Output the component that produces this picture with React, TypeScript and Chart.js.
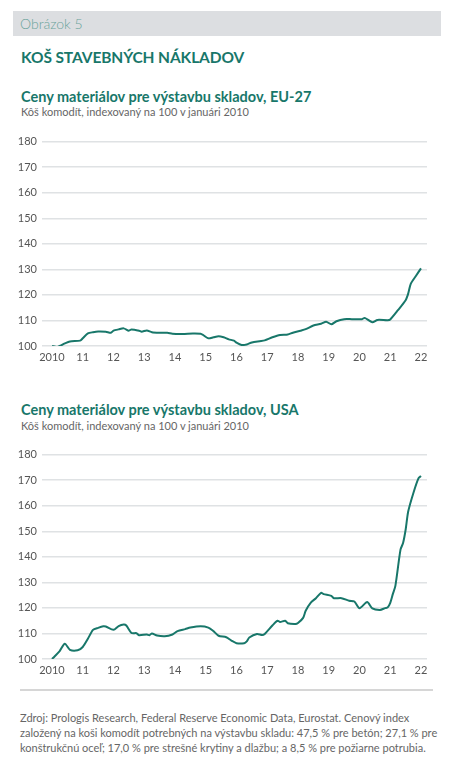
import React, { useEffect, useRef } from "react";
import { Chart, registerables } from "chart.js";

Chart.register(...registerables);

// Month index counted from January 2010 (0 = Jan 2010, 144 = Jan 2022)
const yearTickMonths = [0, 12, 24, 36, 48, 60, 72, 84, 96, 108, 120, 132, 144];
const yearTickLabels = ["2010", "11", "12", "13", "14", "15", "16", "17", "18", "19", "20", "21", "22"];
const yTicks = [100, 110, 120, 130, 140, 150, 160, 170, 180];

const euMonths = [0, 2, 3, 5, 7, 11, 12, 14, 16, 18, 21, 23, 24, 26, 28, 30, 31, 34, 35, 37, 39, 42, 45, 47, 51, 55, 58, 59, 61, 63, 65, 67, 69, 71, 72, 74, 76, 78, 81, 83, 86, 89, 92, 94, 97, 99, 102, 105, 107, 109, 111, 114, 117, 121, 122, 125, 127, 131, 132, 135, 138, 139, 140, 142, 144];
const euValues = [100, 99.6, 100, 101, 101.8, 102.1, 103, 104.9, 105.4, 105.7, 105.6, 105.2, 106, 106.5, 106.9, 106, 106.5, 106, 105.6, 106.1, 105.4, 105.2, 105.2, 104.8, 104.7, 104.9, 104.8, 104.3, 103, 103.4, 103.8, 103.4, 102.6, 102.1, 101.3, 100.4, 100.6, 101.4, 101.9, 102.2, 103.4, 104.3, 104.5, 105.2, 106, 106.6, 108, 108.7, 109.5, 108.5, 109.7, 110.5, 110.5, 110.5, 111, 109.3, 110.2, 110.1, 110.4, 114, 117.9, 120.5, 124.3, 127.4, 130.4];

const usMonths = [0, 1, 3, 5, 7, 10, 12, 14, 16, 18, 20, 21, 24, 26, 28, 29, 31, 33, 34, 37, 38, 39, 41, 44, 47, 49, 52, 54, 58, 61, 63, 65, 68, 70, 72, 75, 76, 77, 80, 82, 83, 86, 88, 89, 91, 92, 95, 96, 98, 99, 101, 103, 105, 106, 109, 110, 113, 116, 118, 120, 123, 125, 128, 130, 131, 132, 133, 134, 136, 137, 138, 139, 141, 143, 144];
const usValues = [100, 101, 103.1, 106, 103.6, 103.4, 104.7, 107.9, 111.4, 112.2, 112.8, 112.7, 111.4, 112.9, 113.5, 113.1, 110.2, 110.1, 109.3, 109.6, 109.3, 110, 109.2, 108.9, 109.6, 110.9, 111.7, 112.3, 112.8, 112.3, 110.9, 109.1, 108.5, 107.2, 106.2, 106.2, 106.9, 108.4, 109.8, 109.4, 109.8, 113.1, 115, 114.5, 115, 114, 113.7, 114.1, 116.1, 118.9, 122.1, 123.8, 125.9, 125.4, 124.7, 123.8, 123.8, 122.8, 122.5, 119.9, 122.3, 119.8, 119.2, 119.9, 120.2, 122, 125.4, 128.6, 142.8, 145.4, 150.6, 157.7, 164.9, 170.7, 171.6];

const TEAL = "#18776a";
const FONT = "Lato, 'Noto Sans', sans-serif";

function LineChart({ months, values, top }: { months: number[]; values: number[]; top: number }) {
  const ref = useRef<HTMLCanvasElement>(null);
  useEffect(() => {
    if (!ref.current) return;
    const chart = new Chart(ref.current, {
      type: "line",
      data: {
        datasets: [
          {
            data: months.map((m, i) => ({ x: m, y: values[i] })),
            borderColor: TEAL,
            borderWidth: 2,
            pointRadius: 0,
            tension: 0.25,
            fill: false,
          },
        ],
      },
      options: {
        animation: false,
        responsive: false,
        maintainAspectRatio: false,
        layout: { padding: { top: 10, right: 29, bottom: 0, left: 0 } },
        plugins: { legend: { display: false }, tooltip: { enabled: false } },
        scales: {
          x: {
            type: "linear",
            min: -3.9,
            max: 146.34,
            border: { display: false },
            grid: { display: false, drawTicks: false },
            afterBuildTicks: (axis: any) => {
              axis.ticks = yearTickMonths.map((v) => ({ value: v }));
            },
            afterFit: (scale: any) => {
              scale.height = 24;
            },
            ticks: {
              autoSkip: false,
              maxRotation: 0,
              padding: 5,
              color: "#555",
              font: { family: FONT, size: 11 },
              callback: (v: any) => {
                const idx = yearTickMonths.indexOf(Number(v));
                return idx >= 0 ? yearTickLabels[idx] : "";
              },
            },
          },
          y: {
            min: 100,
            max: 180,
            border: { display: false },
            grid: { color: "#dfe2e4", lineWidth: 1.5, drawTicks: false },
            afterBuildTicks: (axis: any) => {
              axis.ticks = yTicks.map((v) => ({ value: v }));
            },
            afterFit: (scale: any) => {
              scale.width = 42;
            },
            ticks: {
              padding: 5,
              color: "#555",
              font: { family: FONT, size: 11 },
            },
          },
        },
      },
    } as any);
    return () => chart.destroy();
  }, [months, values]);
  return (
    <canvas
      ref={ref}
      width={456}
      height={240}
      style={{ position: "absolute", left: 0, top, width: 456, height: 240 }}
    />
  );
}

function Text({ top, h, size, color, weight, children, left = 21, ls = 0 }: any) {
  return (
    <div
      style={{
        position: "absolute",
        left,
        top,
        height: h,
        lineHeight: h + "px",
        fontSize: size,
        color,
        fontWeight: weight,
        fontFamily: FONT,
        letterSpacing: ls,
        whiteSpace: "nowrap",
      }}
    >
      {children}
    </div>
  );
}

export default function App() {
  return (
    <div style={{ position: "absolute", left: 0, top: 0, width: 456, height: 769, background: "#fff", fontFamily: FONT }}>
      <div style={{ position: "absolute", left: 13, top: 11, width: 428, height: 25, background: "#dcdee1" }} />
      <Text top={13} h={21} size={14} color="#6aa39b" weight={300} left={20}>Obrázok 5</Text>
      <Text top={47} h={20} size={15.5} color={TEAL} weight={700} ls={-0.1}>KOŠ STAVEBNÝCH NÁKLADOV</Text>
      <Text top={88} h={18} size={14.5} color={TEAL} weight={700}>Ceny materiálov pre výstavbu skladov, EU-27</Text>
      <Text top={105} h={14} size={11} color="#666" weight={400}>Kôš komodít, indexovaný na 100 v januári 2010</Text>
      <LineChart months={euMonths} values={euValues} top={130} />
      <Text top={401} h={18} size={14.5} color={TEAL} weight={700}>Ceny materiálov pre výstavbu skladov, USA</Text>
      <Text top={419} h={14} size={11} color="#666" weight={400}>Kôš komodít, indexovaný na 100 v januári 2010</Text>
      <LineChart months={usMonths} values={usValues} top={443} />
      <div style={{ position: "absolute", left: 20, top: 689, width: 413, height: 2, background: "#d6d6d6" }} />
      <Text top={710} h={15} size={11} color="#666" weight={400} left={20}>Zdroj: Prologis Research, Federal Reserve Economic Data, Eurostat. Cenový index</Text>
      <Text top={725} h={15} size={11} color="#666" weight={400} left={20}>založený na koši komodít potrebných na výstavbu skladu: 47,5 % pre betón; 27,1 % pre</Text>
      <Text top={740} h={15} size={11} color="#666" weight={400} left={20}>konštrukčnú oceľ; 17,0 % pre strešné krytiny a dlažbu; a 8,5 % pre požiarne potrubia.</Text>
    </div>
  );
}
